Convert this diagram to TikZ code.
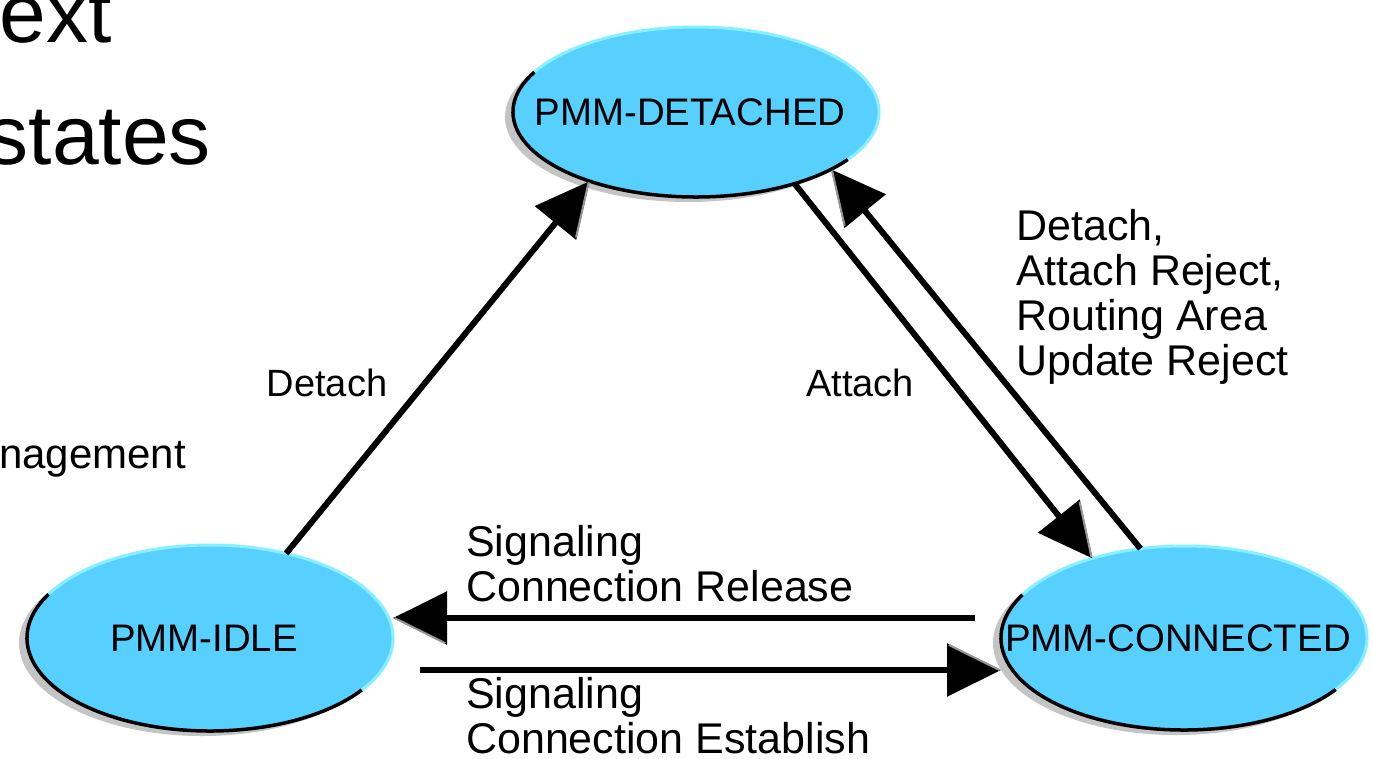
\documentclass[tikz,border=0pt]{standalone}
\usepackage{fontspec}
\setmainfont{Liberation Sans}
\usetikzlibrary{arrows.meta,shapes.geometric,shadows,calc}

\definecolor{statefill}{RGB}{87,208,255}
\definecolor{staterim}{RGB}{135,240,255}
\definecolor{stateshade}{RGB}{196,196,196}
\definecolor{tipshine}{RGB}{150,150,150}

\tikzset{
  state/.style={ellipse, fill=statefill, inner sep=0pt, outer sep=0pt,
    minimum width=366pt, minimum height=#1,
    general shadow={fill=stateshade, shadow xshift=-8pt, shadow yshift=-5pt},
    font=\fontsize{38.4}{44}\selectfont},
  flow/.style={line width=6pt, -{Triangle[length=54pt,width=52pt]}},
  shine/.style={tipshine, line width=2pt},
  lbl/.style={inner sep=0pt, font=\fontsize{43}{45}\selectfont},
  edgelbl/.style={inner sep=0pt, font=\fontsize{38}{42}\selectfont},
  backtxt/.style={inner sep=0pt, font=\fontsize{84}{100}\selectfont},
}

% two-tone rim of a state: dark on the lower left, light on the upper right
\newcommand\drawrim[3]{%
  \draw[staterim, line width=3pt] ([shift={(-34:#2 and #3)}]#1.center)
    arc[start angle=-34, end angle=152, x radius=#2, y radius=#3];
  \draw[black, line width=3.5pt] ([shift={(152:#2 and #3)}]#1.center)
    arc[start angle=152, end angle=326, x radius=#2, y radius=#3];
}
% grey bevel along one edge of an arrow head: {tip}{start}{turn}
\newcommand\tipedge[3]{%
  \draw[shine] ($(#1)!1.5pt!(#2)$) -- ($(#1)!58pt!#3:(#2)$);
}

\begin{document}
\begin{tikzpicture}[x=1pt, y=-1pt]
  \fill[white] (0,0) rectangle (1373,758);
  \useasboundingbox (0,0) rectangle (1373,758);

  % slide text behind the diagram
  \node[backtxt, anchor=base east] (t1) at (112,42) {ext};
  \node[backtxt, anchor=base east] (t2) at (211,164) {states};
  \node[inner sep=0pt, font=\fontsize{42}{45}\selectfont, anchor=base west] (t3) at (-1,468) {nagement};

  % states
  \node[state=170pt] (det) at (696,112) {\makebox[0pt]{PMM-DETACHED\hspace{12pt}}};
  \node[state=186pt] (idle) at (210,638) {\makebox[0pt]{PMM-IDLE\hspace{12pt}}};
  \node[state=184pt] (conn) at (1184,638) {\makebox[0pt]{PMM-CONNECTED\hspace{12pt}}};
  \drawrim{det}{183pt}{85pt}
  \drawrim{idle}{183pt}{93pt}
  \drawrim{conn}{183pt}{92pt}

  % transitions
  \coordinate (relS) at (975,618);
  \coordinate (relT) at (relS -| idle.east);
  \coordinate (estS) at (420,670);
  \coordinate (estT) at (estS -| conn.west);

  \draw[flow] (idle.48) -- (det.213);
  \draw[flow] (det.324) -- (conn.139);
  \draw[flow] (conn.116) -- (det.337);
  \draw[flow] (relS) -- (relT);
  \draw[flow] (estS) -- (estT);

  \tipedge{det.213}{idle.48}{25.7}
  \tipedge{conn.139}{det.324}{-25.7}
  \tipedge{det.337}{conn.116}{-25.7}
  \tipedge{relT}{relS}{-25.7}
  \tipedge{estT}{estS}{-25.7}

  % transition labels
  \node[edgelbl] (lblDetach) at (327,383) {Detach};
  \node[edgelbl] (lblAttach) at (860,383) {Attach};
  \node[lbl, anchor=base west] (lblBack) at (1016,240)
    {\begin{tabular}[t]{@{}l@{}}Detach,\\Attach Reject,\\Routing Area\\Update Reject\end{tabular}};
  \node[lbl, anchor=base west] (lblRel) at (466,556)
    {\begin{tabular}[t]{@{}l@{}}Signaling\\Connection Release\end{tabular}};
  \node[lbl, anchor=base west] (lblEst) at (466,708)
    {\begin{tabular}[t]{@{}l@{}}Signaling\\Connection Establish\end{tabular}};
\end{tikzpicture}
\end{document}
